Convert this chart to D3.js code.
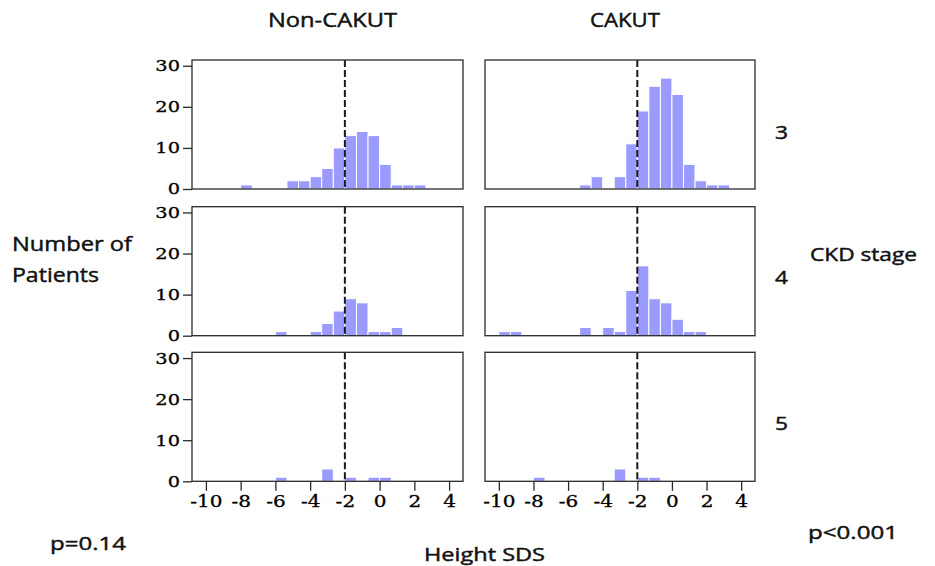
<!DOCTYPE html>
<html>
<head>
<meta charset="utf-8">
<script src="https://cdn.jsdelivr.net/npm/d3@7"></script>
<style>
html,body{margin:0;padding:0;background:#fff;}
svg{display:block;}
</style>
</head>
<body>
<svg id="chart" width="935" height="566"></svg>
<script>
// ---- data ----
const groups = ["Non-CAKUT", "CAKUT"];
const stages = ["3", "4", "5"];
const binStart = -10;          // left edge of first bin (Height SDS)
const binWidth = 2 / 3;        // bin width (Height SDS)
// counts per bin, bins starting at -10, -9.33, -8.67, ... , 3.33
const nonCakut3 = [0,0,0,1,0,0,0,2,2,3,5,10,13,14,13,6,1,1,1,0,0];
const nonCakut4 = [0,0,0,0,0,0,1,0,0,1,3,6,9,8,1,1,2,0,0,0,0];
const nonCakut5 = [0,0,0,0,0,0,1,0,0,0,3,0,1,0,1,1,0,0,0,0,0];
const cakut3    = [0,0,0,0,0,0,0,1,3,0,3,11,19,25,27,23,6,2,1,1,0];
const cakut4    = [1,1,0,0,0,0,0,2,0,2,1,11,17,9,8,4,1,1,0,0,0];
const cakut5    = [0,0,0,1,0,0,0,0,0,0,3,0,1,1,0,0,0,0,0,0,0];
const xTicks = [-10,-8,-6,-4,-2,0,2,4];
const yTicks = [0,10,20,30];
const refLine = -2;
const pLabels = ["p=0.14", "p<0.001"];

const panels = [
  [nonCakut3, cakut3],
  [nonCakut4, cakut4],
  [nonCakut5, cakut5]
];

// ---- layout ----
const colX = [192, 485];
const colW = [271, 270];
const rowY = [60, 206.7, 352.3];
const rowH = 129;
const barColor = "#9a9aff";
const sx = 1.25; // horizontal stretch of serif tick text

const svg = d3.select("#chart");

const yScale = d3.scaleLinear().domain([0, 31.4]).range([rowH, 0]);
const fmt = d => String(d);

panels.forEach((row, ri) => {
  row.forEach((counts, ci) => {
    const xScale = d3.scaleLinear().domain([-10.8, 4.8]).range([0, colW[ci]]);
    const g = svg.append("g").attr("transform", `translate(${colX[ci]},${rowY[ri]})`);
    const bins = counts.map((c, i) => ({x0: binStart + i * binWidth, x1: binStart + (i + 1) * binWidth, n: c}))
                       .filter(d => d.n > 0);
    g.selectAll("rect.bar").data(bins).enter().append("rect")
      .attr("class", "bar")
      .attr("x", d => xScale(d.x0))
      .attr("width", d => xScale(d.x1) - xScale(d.x0))
      .attr("y", d => yScale(d.n))
      .attr("height", d => yScale(0) - yScale(d.n))
      .attr("fill", barColor)
      .attr("stroke", "#fff")
      .attr("stroke-width", 1);

    // dashed reference line
    g.append("line")
      .attr("x1", xScale(refLine)).attr("x2", xScale(refLine))
      .attr("y1", 0).attr("y2", rowH)
      .attr("stroke", "#1a1a1a").attr("stroke-width", 2)
      .attr("stroke-dasharray", "7,3");

    // frame
    g.append("rect")
      .attr("x", 0).attr("y", 0).attr("width", colW[ci]).attr("height", rowH)
      .attr("fill", "none").attr("stroke", "#2a2a2a").attr("stroke-width", 1.3);

    if (ci === 0) {
      const ya = g.append("g").call(d3.axisLeft(yScale).tickValues(yTicks).tickFormat(fmt).tickSize(9).tickPadding(3).tickSizeOuter(0));
      ya.select(".domain").remove();
      ya.selectAll("line").attr("stroke", "#2a2a2a").attr("stroke-width", 1.3);
      ya.selectAll("text")
        .attr("font-family", "DejaVu Serif").attr("font-size", 15.5).attr("fill", "#000")
        .attr("stroke", "#000").attr("stroke-width", 0.3)
        .attr("x", -12 / sx)
        .attr("transform", `scale(${sx},1)`);
    }
    if (ri === 2) {
      const xa = g.append("g").attr("transform", `translate(0,${rowH})`)
        .call(d3.axisBottom(xScale).tickValues(xTicks).tickFormat(fmt).tickSize(9.5).tickPadding(5).tickSizeOuter(0));
      xa.select(".domain").remove();
      xa.selectAll("line").attr("stroke", "#2a2a2a").attr("stroke-width", 1.3);
      xa.selectAll("text")
        .attr("font-family", "DejaVu Serif").attr("font-size", 16).attr("fill", "#000")
        .attr("stroke", "#000").attr("stroke-width", 0.3)
        .attr("transform", `scale(${sx},1)`);
    }
  });
});

// ---- labels ----
const sans = "Open Sans";
function label(txt, x, y, len, size, anchor) {
  svg.append("text")
    .attr("x", x).attr("y", y)
    .attr("font-family", sans).attr("font-size", size)
    .attr("fill", "#111")
    .attr("stroke", "#111").attr("stroke-width", 0.45)
    .attr("text-anchor", anchor || "start")
    .attr("textLength", len).attr("lengthAdjust", "spacingAndGlyphs")
    .text(txt);
}
label(groups[0], 268, 27, 129, 20);
label(groups[1], 590, 27, 70, 20);
label("Number of", 12, 251, 120, 20);
label("Patients", 12, 282, 87, 20);
label("CKD stage", 810, 261, 107, 19);
label(stages[0], 775, 139, 13, 19);
label(stages[1], 775, 284, 13, 19);
label(stages[2], 775, 430, 13, 19);
label(pLabels[0], 50, 550, 76, 19);
label(pLabels[1], 808, 539, 90, 19);
label("Height SDS", 424, 561, 121, 19);
</script>
</body>
</html>
